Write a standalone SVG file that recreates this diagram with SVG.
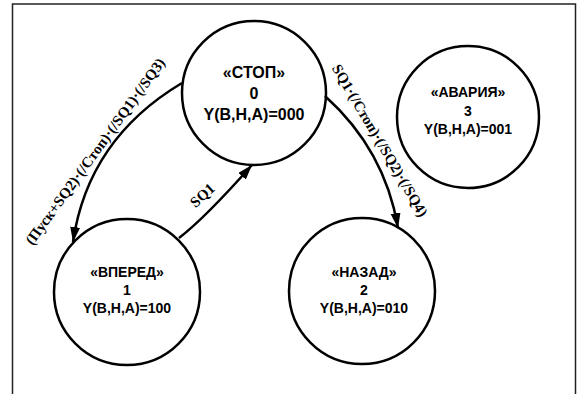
<svg xmlns="http://www.w3.org/2000/svg" width="581" height="394" viewBox="0 0 581 394">
  <style>
    .state { fill: #ffffff; stroke: #000000; stroke-width: 2.5; }
    .name { font-family: "Liberation Sans", Arial, sans-serif; font-weight: bold; font-size: 14px; text-anchor: middle; fill: #000000; }
    .big { font-size: 16px; }
    .edge { fill: none; stroke: #000000; stroke-width: 2.5; }
    .cond { font-family: "Liberation Serif", "Times New Roman", serif; font-weight: bold; font-size: 15px; text-anchor: middle; fill: #000000; }
  </style>
  <defs>
    <marker id="arrow" markerUnits="userSpaceOnUse" markerWidth="16" markerHeight="11" refX="15" refY="5" orient="auto">
      <path d="M0,0 L15,5 L0,10 Z" fill="#000000"/>
    </marker>
  </defs>

  <rect width="581" height="394" fill="#ffffff"/>
  <!-- frame -->
  <path d="M12.5,394 V4 H575.5 V394" fill="none" stroke="#222222" stroke-width="1.5"/>

  <g id="stop">
    <circle class="state" cx="254" cy="93" r="72"/>
    <text class="name big" x="254" y="78">«СТОП»</text>
    <text class="name big" x="254" y="99">0</text>
    <text class="name big" x="254" y="120">Y(B,H,A)=000</text>
  </g>

  <g id="forward">
    <circle class="state" cx="127" cy="292" r="73"/>
    <text class="name" x="127" y="277">«ВПЕРЕД»</text>
    <text class="name" x="127" y="295">1</text>
    <text class="name" x="127" y="313">Y(B,H,A)=100</text>
  </g>

  <g id="backward">
    <circle class="state" cx="362" cy="291" r="73"/>
    <text class="name" x="364" y="277">«НАЗАД»</text>
    <text class="name" x="364" y="295">2</text>
    <text class="name" x="364" y="313">Y(B,H,A)=010</text>
  </g>

  <g id="alarm">
    <circle class="state" cx="468" cy="117" r="71"/>
    <text class="name" x="468" y="97">«АВАРИЯ»</text>
    <text class="name" x="468" y="116">3</text>
    <text class="name" x="468" y="134">Y(B,H,A)=001</text>
  </g>

  <g id="connectors">
    <path class="edge" d="M182,83 Q88,139 73,242" marker-end="url(#arrow)"/>
    <path class="edge" d="M325,96 Q385,150 398,228" marker-end="url(#arrow)"/>
    <path class="edge" d="M179,238 Q205,218 252,165" marker-end="url(#arrow)"/>
    <text class="cond" transform="translate(96,152) rotate(-54)" x="0" y="4">(Пуск+SQ2)·(/Стоп)·(/SQ1)·(/SQ3)</text>
    <text class="cond" transform="translate(379,141) rotate(59.5)" x="0" y="4">SQ1·(/Стоп)·(/SQ2)·(/SQ4)</text>
    <text class="cond" transform="translate(203,196) rotate(-42)" x="0" y="4">SQ1</text>
  </g>
</svg>
